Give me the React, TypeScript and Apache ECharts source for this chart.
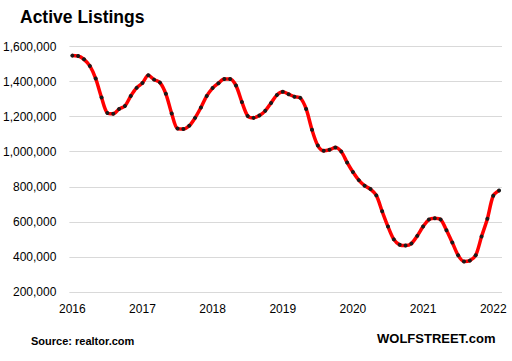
import React, { useEffect, useRef } from "react";
import * as echarts from "echarts";

const months: string[] = [];
for (let y = 2016; y <= 2022; y++) {
  for (let m = 1; m <= 12; m++) {
    if (y === 2022 && m > 2) break;
    months.push(`${y}-${m}`);
  }
}

const listings2016 = [1548000, 1546000, 1527000, 1489000, 1417000, 1309000, 1221000, 1216000, 1243000, 1261000, 1318000, 1364000];
const listings2017 = [1392000, 1436000, 1411000, 1394000, 1330000, 1218000, 1132000, 1130000, 1148000, 1193000, 1252000, 1318000];
const listings2018 = [1363000, 1391000, 1415000, 1415000, 1377000, 1284000, 1204000, 1193000, 1206000, 1233000, 1278000, 1324000];
const listings2019 = [1342000, 1328000, 1314000, 1307000, 1244000, 1125000, 1035000, 1005000, 1011000, 1024000, 1001000, 939000];
const listings2020 = [884000, 838000, 806000, 787000, 751000, 660000, 573000, 500000, 469000, 465000, 476000, 520000];
const listings2021 = [573000, 613000, 620000, 613000, 552000, 482000, 409000, 374000, 379000, 409000, 516000, 618000];
const listings2022 = [749000, 779000];

const values = [
  ...listings2016,
  ...listings2017,
  ...listings2018,
  ...listings2019,
  ...listings2020,
  ...listings2021,
  ...listings2022,
];

export default function App() {
  const ref = useRef<HTMLDivElement>(null);
  useEffect(() => {
    if (!ref.current) return;
    const chart = echarts.init(ref.current, null, { renderer: "svg" });
    chart.setOption({
      animation: false,
      backgroundColor: "#ffffff",
      textStyle: { fontFamily: "Liberation Sans" },
      graphic: [
        {
          type: "text",
          left: 20,
          top: 8,
          style: { text: "Active Listings", font: "bold 17.5px 'Liberation Sans'", fill: "#000" },
        },
        {
          type: "text",
          left: 31,
          top: 335,
          style: { text: "Source: realtor.com", font: "bold 11px 'Liberation Sans'", fill: "#000" },
        },
        {
          type: "text",
          left: 377,
          top: 332,
          style: { text: "WOLFSTREET.com", font: "bold 13px 'Liberation Sans'", fill: "#000" },
        },
      ],
      grid: { left: 68, right: 10, top: 46.5, bottom: 69, containLabel: false },
      xAxis: {
        type: "category",
        data: months,
        boundaryGap: true,
        axisLine: { show: false },
        axisTick: { show: false },
        axisLabel: {
          interval: (i: number) => i % 12 === 0,
          formatter: (v: string) => v.split("-")[0],
          color: "#000",
          fontSize: 12,
          margin: 11,
        },
      },
      yAxis: {
        type: "value",
        min: 200000,
        max: 1600000,
        interval: 200000,
        axisLine: { show: false },
        axisTick: { show: false },
        splitLine: { lineStyle: { color: "#d9d9d9", width: 1 } },
        axisLabel: {
          color: "#000",
          fontSize: 12,
          margin: 13,
          formatter: (v: number) => v.toLocaleString("en-US"),
        },
      },
      series: [
        {
          type: "line",
          data: values,
          smooth: 0.3,
          lineStyle: { color: "#ff0000", width: 3.5 },
          symbol: "circle",
          symbolSize: 4,
          itemStyle: { color: "#1a1a1a", borderWidth: 0 },
          showSymbol: true,
          showAllSymbol: true,
        },
      ],
    });
    return () => chart.dispose();
  }, []);
  return <div ref={ref} style={{ width: 512, height: 361, position: "absolute", left: 0, top: 0 }} />;
}
